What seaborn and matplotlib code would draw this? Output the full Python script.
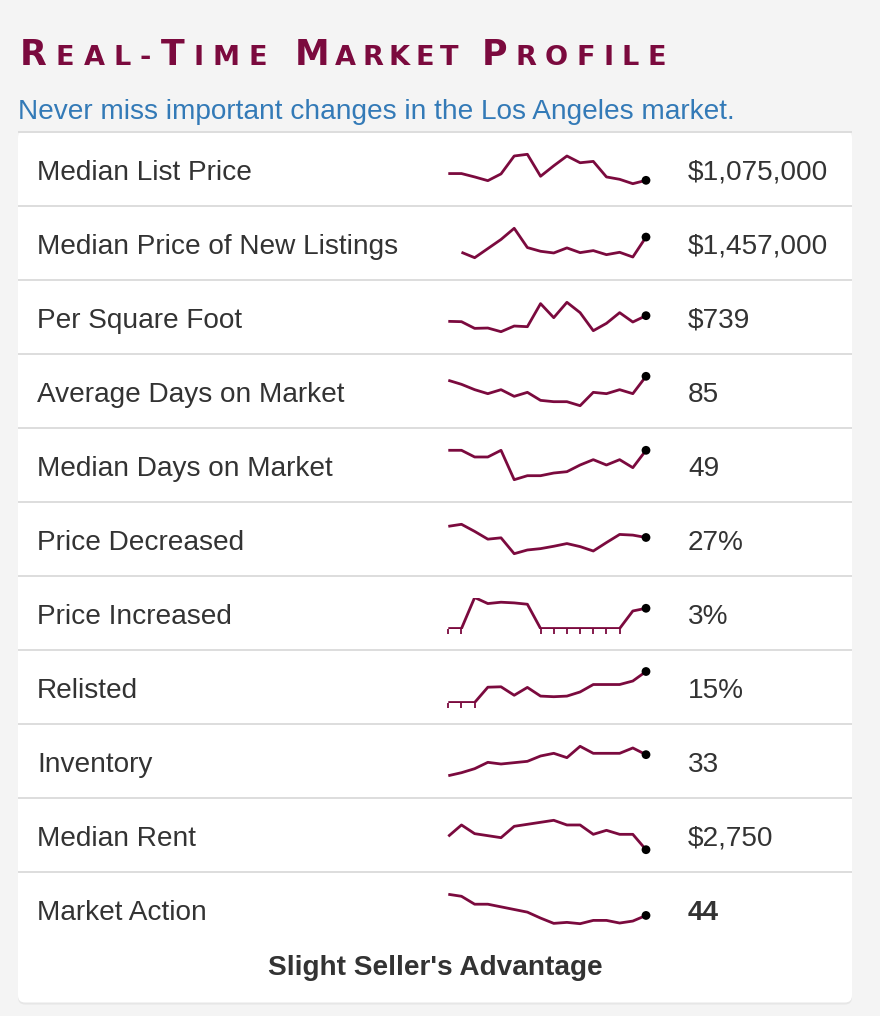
import numpy as np
import matplotlib
matplotlib.use("Agg")
import matplotlib.pyplot as plt
from matplotlib.patches import FancyBboxPatch
import seaborn as sns

# --- data (16 monthly points per metric) ---
metrics = ["Median List Price", "Median Price of New Listings", "Per Square Foot",
           "Average Days on Market", "Median Days on Market", "Price Decreased",
           "Price Increased", "Relisted", "Inventory", "Median Rent", "Market Action"]
value_labels = ["$1,075,000", "$1,457,000", "$739", "85", "49", "27%",
                "3%", "15%", "33", "$2,750", "44"]

list_price = [1095000, 1095000, 1085000, 1074000, 1094000, 1147000, 1152000, 1087000,
              1118000, 1147000, 1127000, 1131000, 1085000, 1078000, 1065000, 1075000]
new_listings = [np.nan, 1322000, 1274000, 1355000, 1436000, 1535000, 1364000, 1331000,
                1316000, 1361000, 1319000, 1337000, 1301000, 1322000, 1280000, 1457000]
per_sqft = [722, 721, 701, 702, 691, 708, 706, 775, 733, 779, 748, 694, 716, 748, 720, 739]
avg_dom = [82, 79, 75, 72, 75, 70, 73, 67, 66, 66, 63, 73, 72, 75, 72, 85]
median_dom = [49, 49, 44, 44, 49, 27, 30, 30, 32, 33, 38, 42, 38, 42, 36, 49]
price_decreased = [30.3, 30.9, 28.8, 26.5, 26.9, 22.2, 23.3, 23.7, 24.4, 25.2, 24.3,
                   23.0, 25.5, 27.9, 27.7, 27.0]
price_increased = [0, 0, 4.6, 3.7, 3.9, 3.8, 3.6, 0, 0, 0, 0, 0, 0, 0, 2.6, 3.0]
relisted = [0, 0, 0, 7.4, 7.6, 3.5, 7.3, 3.1, 2.8, 3.1, 5.1, 8.7, 8.7, 8.7, 10.4, 15.0]
inventory = [26.7, 27.6, 28.8, 30.7, 30.2, 30.6, 31.0, 32.6, 33.4, 32.1, 35.5, 33.4,
             33.4, 33.4, 35.0, 33.0]
median_rent = [2850, 2935, 2870, 2855, 2840, 2925, 2940, 2955, 2970, 2935, 2935, 2865,
               2895, 2865, 2865, 2750]
market_action = [50.4, 49.8, 47.4, 47.4, 46.6, 45.8, 45.0, 43.2, 41.6, 41.9, 41.5,
                 42.5, 42.5, 41.7, 42.3, 44.0]

series = [list_price, new_listings, per_sqft, avg_dom, median_dom, price_decreased,
          price_increased, relisted, inventory, median_rent, market_action]
verdict = "Slight Seller's Advantage"
title_words = ["Real-Time", "Market", "Profile"]

W, H = 880, 1016
CRIMSON = "#7b0a3e"
BLUE = "#337ab7"
TEXT = "#333333"
LINE_GRAY = "#dddddd"

sns.set_style("white")
plt.rcParams["font.family"] = ["Liberation Sans", "DejaVu Sans"]

fig = plt.figure(figsize=(W / 100, H / 100), dpi=100)
fig.patch.set_facecolor("#f4f4f4")
bg = fig.add_axes([0, 0, 1, 1])
bg.set_xlim(0, W)
bg.set_ylim(H, 0)
bg.axis("off")

# card + faint shadow
bg.add_patch(FancyBboxPatch((18, 133), 834, 871.5, boxstyle="round,pad=0,rounding_size=7",
                            fc="#e6e6e6", ec="none", zorder=0))
bg.add_patch(FancyBboxPatch((18, 131), 834, 871.5, boxstyle="round,pad=0,rounding_size=7",
                            fc="white", ec="none", zorder=1))

row_top, row_h = 132, 74
px = 72 / 100  # pixels -> points
for k in range(len(metrics)):
    y = row_top + k * row_h
    bg.plot([18, 852], [y, y], color=LINE_GRAY, lw=2 * px, zorder=2, solid_capstyle="butt")

label_size = 28 * px
for k, (name, val) in enumerate(zip(metrics, value_labels)):
    cy = row_top + k * row_h + row_h / 2
    bg.text(37, cy + 10.5, name, fontsize=label_size, color=TEXT, va="baseline", zorder=3)
    bold = "bold" if name == "Market Action" else "normal"
    bg.text(688, cy + 10.5, val, fontsize=label_size, color=TEXT, va="baseline",
            fontweight=bold, zorder=3)

bg.text(435.5, 975, verdict, fontsize=label_size, color=TEXT, va="baseline", ha="center",
        fontweight="bold", zorder=3)

bg.text(18, 119, "Never miss important changes in the Los Angeles market.",
        fontsize=label_size, color=BLUE, va="baseline", zorder=3)


# --- small-caps title: capitals big, the rest as smaller capitals, tracked per word ---
def small_caps_word(ax, word, left, right, y, big, small):
    renderer = fig.canvas.get_renderer()
    parts = []
    for ch in word:
        size = big if ch.isupper() else small
        t = ax.text(0, y, ch.upper(), fontsize=size, family="DejaVu Sans",
                    fontweight="bold")
        parts.append((ch.upper(), size, t.get_window_extent(renderer).width))
        t.remove()
    track = (right - left - sum(p[2] for p in parts)) / (len(parts) - 1)
    x = left
    for ch, size, w in parts:
        ax.text(x, y, ch, fontsize=size, family="DejaVu Sans", fontweight="bold",
                color=CRIMSON, va="baseline", ha="left", zorder=3)
        x += w + track


word_spans = [(20, 267), (295, 458), (482, 666)]
for word, (l, r) in zip(title_words, word_spans):
    small_caps_word(bg, word, l, r, 65, 25.0, 19.5)

# --- sparklines ---
x0, x1 = 448.3, 646.0
for k, vals in enumerate(series):
    cy = row_top + k * row_h + row_h / 2
    has_zero = np.nanmin(vals) == 0
    hh = 15.5 if has_zero else 14.7
    ax = fig.add_axes([x0 / W, 1 - (cy + hh) / H, (x1 - x0) / W, 2 * hh / H])
    ax.set_xlim(0, len(vals) - 1)
    ax.set_ylim(np.nanmin(vals), np.nanmax(vals))
    ax.axis("off")
    ax.patch.set_alpha(0)
    idx = np.arange(len(vals))
    sns.lineplot(x=idx, y=vals, ax=ax, color=CRIMSON, linewidth=2.0,
                 clip_on=has_zero, solid_joinstyle="round", solid_capstyle="butt")
    if has_zero:
        zi = [i for i, v in enumerate(vals) if v == 0]
        ax.plot(zi, [0] * len(zi), ls="none", marker=3, markersize=3.5, mew=1.3,
                color=CRIMSON, clip_on=False)
    sns.scatterplot(x=[idx[-1]], y=[vals[-1]], ax=ax, color="black", s=40,
                    edgecolor="none", zorder=4, clip_on=False)

fig.savefig("out.png", dpi=100, facecolor=fig.get_facecolor())
